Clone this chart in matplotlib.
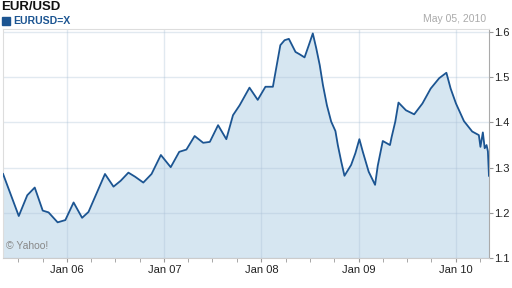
import numpy as np
import pandas as pd
import matplotlib
matplotlib.use('Agg')
import matplotlib.pyplot as plt
import matplotlib.dates as mdates
from matplotlib.patches import Rectangle

plt.rcParams['font.family'] = ['Liberation Sans', 'DejaVu Sans']

# EUR/USD close
dates = ['2005-05-05', '2005-07-03', '2005-08-04', '2005-09-01', '2005-10-01',
         '2005-10-23', '2005-11-26', '2005-12-25', '2006-01-25', '2006-02-26',
         '2006-03-22', '2006-05-23', '2006-06-24', '2006-07-21', '2006-08-19',
         '2006-09-13', '2006-10-14', '2006-11-14', '2006-12-19', '2007-01-25',
         '2007-02-26', '2007-03-25', '2007-04-25', '2007-05-27', '2007-06-21',
         '2007-07-22', '2007-08-22', '2007-09-16', '2007-10-11', '2007-11-17',
         '2007-12-18', '2008-01-16', '2008-02-13', '2008-02-23', '2008-03-12',
         '2008-03-28', '2008-04-13', '2008-05-08', '2008-05-23', '2008-06-11',
         '2008-06-27', '2008-07-12', '2008-07-25', '2008-08-07', '2008-08-19',
         '2008-09-03', '2008-09-19', '2008-10-05', '2008-10-14', '2008-10-27',
         '2008-11-08', '2008-12-03', '2008-12-19', '2009-01-03', '2009-01-16',
         '2009-02-07', '2009-03-03', '2009-03-13', '2009-04-01', '2009-04-28',
         '2009-05-04', '2009-05-18', '2009-05-30', '2009-06-27', '2009-07-28',
         '2009-08-28', '2009-09-28', '2009-10-30', '2009-11-26', '2009-12-12',
         '2010-01-01', '2010-01-31', '2010-03-03', '2010-03-28', '2010-04-03',
         '2010-04-12', '2010-04-19', '2010-04-26', '2010-05-01', '2010-05-05']
rates = [1.286, 1.193, 1.239, 1.256, 1.205,
         1.201, 1.179, 1.184, 1.223, 1.189,
         1.202, 1.286, 1.258, 1.271, 1.289,
         1.280, 1.267, 1.286, 1.328, 1.301,
         1.335, 1.340, 1.370, 1.355, 1.357,
         1.394, 1.363, 1.416, 1.438, 1.477,
         1.450, 1.479, 1.479, 1.512, 1.571,
         1.582, 1.585, 1.556, 1.551, 1.544,
         1.571, 1.597, 1.564, 1.527, 1.483,
         1.438, 1.402, 1.381, 1.350, 1.313,
         1.282, 1.306, 1.332, 1.363, 1.335,
         1.291, 1.262, 1.304, 1.359, 1.350,
         1.367, 1.402, 1.444, 1.427, 1.418,
         1.442, 1.475, 1.498, 1.510, 1.475,
         1.442, 1.403, 1.380, 1.372, 1.346,
         1.378, 1.343, 1.350, 1.336, 1.282]
yticks = [1.1, 1.2, 1.3, 1.4, 1.5, 1.6]

x = pd.to_datetime(dates)
line_col = '#1c5592'
fill_col = '#d6e6f1'

fig = plt.figure(figsize=(5.12, 2.88), dpi=100)
ax = fig.add_axes([0.006, 0.104, 0.949, 0.795])

ax.fill_between(x, rates, 1.1, color=fill_col, lw=0, zorder=1)
ax.plot(x, rates, color=line_col, lw=1.3, zorder=3)

ax.set_xlim(pd.Timestamp('2005-05-05'), pd.Timestamp('2010-05-05'))
ax.set_ylim(1.1, 1.6066)

ax.xaxis.set_major_locator(mdates.MonthLocator(bymonth=1))
ax.xaxis.set_major_formatter(mdates.DateFormatter('%b %y'))
ax.xaxis.set_minor_locator(mdates.MonthLocator(bymonth=[4, 7, 10]))
ax.set_yticks(yticks)
ax.set_yticklabels(['%.1f' % v for v in yticks])
ax.yaxis.tick_right()

# grid sits over the fill, a touch darker there
ax.grid(True, which='major', color='#a9c0d6', alpha=0.35, lw=1, zorder=2)
ax.tick_params(axis='x', which='both', length=3, color='#999999', labelsize=8,
               labelcolor='#222222', pad=2)
ax.tick_params(axis='y', length=3, color='#999999', labelsize=8,
               labelcolor='#222222', pad=1)

for side in ['top', 'left']:
    ax.spines[side].set_color('#dddddd')
ax.spines['right'].set_color('#aaaaaa')
ax.spines['bottom'].set_color('#cccccc')

fig.text(0.003, 0.997, 'EUR/USD', fontsize=9.5, fontweight='bold',
         color='#111111', va='top', ha='left')
fig.patches.append(Rectangle((2 / 512, 1 - 25 / 288), 8 / 512, 8 / 288,
                             transform=fig.transFigure, color=line_col))
fig.text(0.025, 1 - 20.7 / 288, 'EURUSD=X', fontsize=7.6, fontweight='bold',
         color=line_col, va='center', ha='left')
fig.text(0.949, 0.934, 'May 05, 2010', fontsize=7.5, color='#aaaaaa',
         va='center', ha='right')
ax.text(0.007, 0.03, '\u00a9 Yahoo!', transform=ax.transAxes, fontsize=7.5,
        color='#888888', va='bottom', ha='left')

fig.savefig('out.png', dpi=100)
